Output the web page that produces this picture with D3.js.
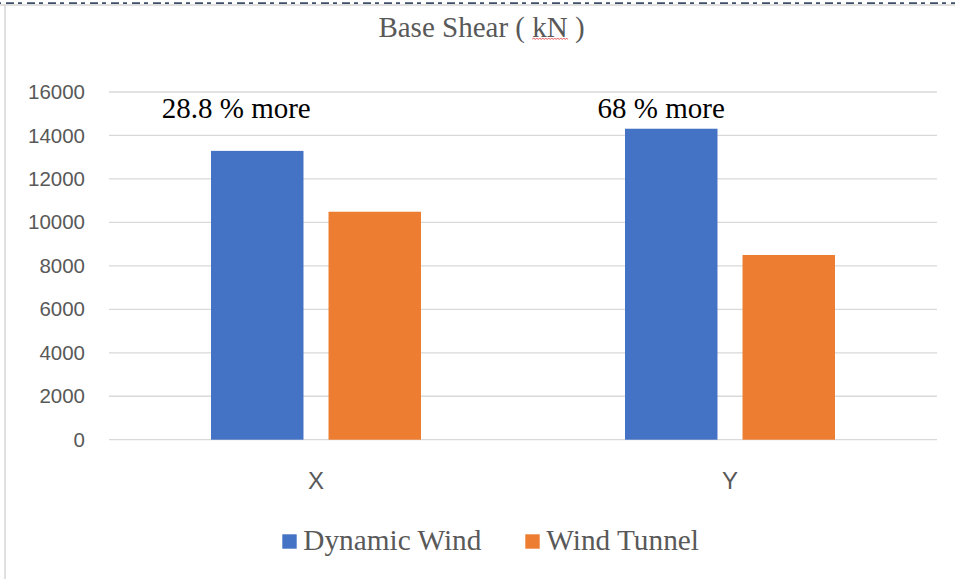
<!DOCTYPE html>
<html>
<head>
<meta charset="utf-8">
<script src="https://cdn.jsdelivr.net/npm/d3@7"></script>
<style>
  html, body { margin: 0; padding: 0; background: #fff; }
  svg { display: block; }
</style>
</head>
<body>
<svg id="chart" width="955" height="579"></svg>
<script>
// Base shear per direction, kN
const categories = ["X", "Y"];
const seriesNames = ["Dynamic Wind", "Wind Tunnel"];
const dynamicWind = [13290, 14310];
const windTunnel = [10490, 8500];
const yTicks = [0, 2000, 4000, 6000, 8000, 10000, 12000, 14000, 16000];
const notes = ["28.8 % more", "68 % more"];
const colors = ["#4472C4", "#ED7D31"];

const W = 955, H = 579;
const plot = { left: 109, right: 937, top: 92, bottom: 439.7 };
const serif = "'Liberation Serif', 'Times New Roman', serif";
const sans = "'Liberation Sans', Arial, sans-serif";

const svg = d3.select("#chart");

// frame: dash-dot top edge and thin grey left edge
svg.append("line").attr("x1", 0).attr("x2", W).attr("y1", 5).attr("y2", 5)
  .attr("stroke", "#D6D6D6").attr("stroke-width", 1.5);
svg.append("line").attr("x1", 0).attr("x2", W).attr("y1", 3.2).attr("y2", 3.2)
  .attr("stroke", "#3E4E68").attr("stroke-width", 1.8)
  .attr("stroke-dasharray", "8 4 4 5").attr("stroke-dashoffset", -6);
svg.append("line").attr("x1", 5).attr("x2", 5).attr("y1", 5).attr("y2", H)
  .attr("stroke", "#D6D6D6").attr("stroke-width", 1.5);

const y = d3.scaleLinear().domain([0, 16000]).range([plot.bottom, plot.top]);
const x0 = d3.scaleBand().domain(categories).range([plot.left, plot.right]).padding(0);
const x1 = d3.scaleBand().domain(seriesNames).range([0, x0.bandwidth()])
  .paddingInner(0.213).paddingOuter(0.868);

// gridlines
svg.append("g").selectAll("line").data(yTicks).join("line")
  .attr("x1", plot.left).attr("x2", plot.right)
  .attr("y1", d => y(d)).attr("y2", d => y(d))
  .attr("stroke", "#D9D9D9").attr("stroke-width", 1.3);

// y axis labels
const yAxis = d3.axisLeft(y).tickValues(yTicks).tickSize(0).tickPadding(24)
  .tickFormat(d3.format("d"));
const gy = svg.append("g").attr("transform", `translate(${plot.left},0)`).call(yAxis);
gy.select(".domain").remove();
gy.selectAll("text").attr("font-family", sans).attr("font-size", 20.5)
  .attr("fill", "#595959");

// bars
const rows = categories.map((c, i) => ({ cat: c, values: [dynamicWind[i], windTunnel[i]] }));
const groups = svg.append("g").selectAll("g").data(rows).join("g")
  .attr("transform", d => `translate(${x0(d.cat)},0)`);
groups.selectAll("rect")
  .data(d => d.values.map((v, j) => ({ name: seriesNames[j], value: v, j })))
  .join("rect")
  .attr("x", d => x1(d.name))
  .attr("width", x1.bandwidth())
  .attr("y", d => y(d.value))
  .attr("height", d => y(0) - y(d.value))
  .attr("fill", d => colors[d.j]);

// category labels
const xAxis = d3.axisBottom(x0).tickSize(0).tickPadding(32);
const gx = svg.append("g").attr("transform", `translate(0,${plot.bottom})`).call(xAxis);
gx.select(".domain").remove();
gx.selectAll("text").attr("font-family", sans).attr("font-size", 24)
  .attr("fill", "#595959");

// percentage notes above each category
svg.append("g").selectAll("text").data(categories).join("text")
  .attr("x", (c, i) => x0(c) + x1(seriesNames[0]) + x1.bandwidth() / 2 + (i === 0 ? -21 : -10))
  .attr("y", y(16000) + 25.5)
  .attr("text-anchor", "middle")
  .attr("font-family", serif).attr("font-size", 29)
  .attr("fill", "#000")
  .text((c, i) => notes[i]);

// title
const title = svg.append("text")
  .attr("x", 481.5).attr("y", 36.7)
  .attr("text-anchor", "middle")
  .attr("font-family", serif).attr("font-size", 29)
  .attr("fill", "#595959")
  .text("Base Shear ( kN )");
const tNode = title.node();
const str = "Base Shear ( kN )";
const k = str.indexOf("kN");
const ux0 = tNode.getStartPositionOfChar(k).x;
const ux1 = tNode.getEndPositionOfChar(k + 1).x;
// wavy underline under the unit
let wave = `M${ux0},39`;
for (let xx = ux0, up = true; xx < ux1; xx += 1.5, up = !up) {
  wave += ` L${Math.min(xx + 1.5, ux1)},${up ? 38 : 39.5}`;
}
svg.append("path").attr("d", wave).attr("fill", "none")
  .attr("stroke", "#E03030").attr("stroke-width", 0.8);

// legend
const legend = svg.append("g");
const legendX = [282.3, 525.3];
seriesNames.forEach((name, i) => {
  legend.append("rect").attr("x", legendX[i]).attr("y", 534.3)
    .attr("width", 14.4).attr("height", 14.4).attr("fill", colors[i]);
  legend.append("text").attr("x", legendX[i] + 21).attr("y", 549.5)
    .attr("font-family", serif).attr("font-size", 29.3)
    .attr("fill", "#595959").text(name);
});
</script>
</body>
</html>
